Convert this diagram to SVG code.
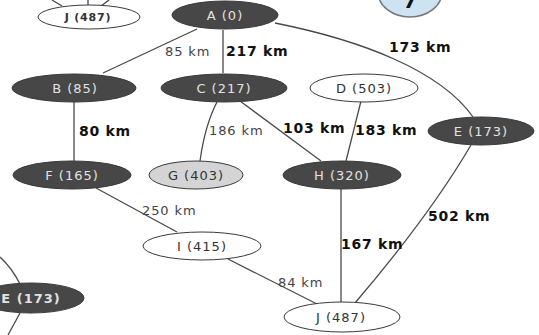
<svg xmlns="http://www.w3.org/2000/svg" width="539" height="335" viewBox="0 0 539 335">
  <style>
    .edge { fill: none; stroke: #4a4a4a; stroke-width: 1.3; }
    .node { stroke: #3a3a3a; stroke-width: 1; }
    .dark { fill: #474747; }
    .light { fill: #ffffff; }
    .grey { fill: #d4d4d4; }
    .blue { fill: #cde3f2; stroke: #777; stroke-width: 1.5; }
    .ntxt { font-family: "DejaVu Sans", sans-serif; font-size: 13px; letter-spacing: 1px; text-anchor: middle; }
    .ondark { fill: #e2e2e2; }
    .onlight { fill: #333333; }
    .lbl { font-family: "DejaVu Sans", sans-serif; font-size: 13px; letter-spacing: 0.9px; fill: #444444; }
    .lblb { font-family: "DejaVu Sans", sans-serif; font-size: 14px; font-weight: bold; letter-spacing: 0.7px; fill: #111111; }
  </style>

  <g id="connectors">
    <!-- stubs from off-frame neighbours -->
    <line class="edge" x1="62" y1="6" x2="52" y2="0"/>
    <line class="edge" x1="88" y1="5" x2="88" y2="0"/>
    <line class="edge" x1="101" y1="6" x2="109" y2="0"/>
    <path class="edge" d="M0,257 Q12,268 20,284"/>
    <line class="edge" x1="20" y1="313" x2="8" y2="335"/>

    <line class="edge" x1="103" y1="73" x2="197" y2="29"/>
    <line class="edge" x1="223" y1="30" x2="223" y2="73"/>
    <path class="edge" d="M275,23 C360,40 440,70 473,117"/>
    <line class="edge" x1="74" y1="102" x2="74" y2="161"/>
    <path class="edge" d="M217,102 Q205,125 200,161"/>
    <line class="edge" x1="240" y1="101" x2="321" y2="161"/>
    <line class="edge" x1="361" y1="101" x2="346" y2="161"/>
    <path class="edge" d="M471,145 Q430,215 355,303"/>
    <line class="edge" x1="96" y1="188" x2="177" y2="232"/>
    <line class="edge" x1="228" y1="259" x2="317" y2="304"/>
    <line class="edge" x1="341" y1="189" x2="341" y2="303"/>

    <text class="lbl" x="165" y="56">85 km</text>
    <text class="lblb" x="226" y="56">217 km</text>
    <text class="lblb" x="389" y="52">173 km</text>
    <text class="lblb" x="79" y="136">80 km</text>
    <text class="lbl" x="209" y="135">186 km</text>
    <text class="lblb" x="283" y="133">103 km</text>
    <text class="lblb" x="355" y="135">183 km</text>
    <text class="lbl" x="142" y="215">250 km</text>
    <text class="lblb" x="428" y="221">502 km</text>
    <text class="lblb" x="341" y="249">167 km</text>
    <text class="lbl" x="278" y="287">84 km</text>
  </g>

  <g id="node-7">
    <ellipse class="blue" cx="410" cy="-8" rx="32" ry="25"/>
    <text x="410" y="8" font-family="DejaVu Sans, sans-serif" font-size="20" font-weight="bold" fill="#111" text-anchor="middle">7</text>
  </g>

  <g id="node-J-top">
    <ellipse class="node light" cx="89" cy="17" rx="51" ry="12"/>
    <text class="ntxt onlight" x="88" y="21" font-size="11" font-weight="bold" style="font-size:11px;letter-spacing:0.8px">J (487)</text>
  </g>

  <g id="node-A">
    <ellipse class="node dark" cx="225" cy="15" rx="53" ry="14"/>
    <text class="ntxt ondark" x="225" y="20">A (0)</text>
  </g>

  <g id="node-B">
    <ellipse class="node dark" cx="74" cy="88" rx="62" ry="14"/>
    <text class="ntxt ondark" x="75" y="93">B (85)</text>
  </g>

  <g id="node-C">
    <ellipse class="node dark" cx="224" cy="88" rx="63" ry="14"/>
    <text class="ntxt ondark" x="224" y="93">C (217)</text>
  </g>

  <g id="node-D">
    <ellipse class="node light" cx="364" cy="88" rx="54" ry="14"/>
    <text class="ntxt onlight" x="364" y="93">D (503)</text>
  </g>

  <g id="node-E">
    <ellipse class="node dark" cx="481" cy="131" rx="53" ry="14"/>
    <text class="ntxt ondark" x="481" y="136">E (173)</text>
  </g>

  <g id="node-F">
    <ellipse class="node dark" cx="72" cy="175" rx="59" ry="14"/>
    <text class="ntxt ondark" x="72" y="180">F (165)</text>
  </g>

  <g id="node-G">
    <ellipse class="node grey" cx="196" cy="175" rx="47" ry="14"/>
    <text class="ntxt onlight" x="196" y="180">G (403)</text>
  </g>

  <g id="node-H">
    <ellipse class="node dark" cx="342" cy="175" rx="59" ry="14"/>
    <text class="ntxt ondark" x="342" y="180">H (320)</text>
  </g>

  <g id="node-I">
    <ellipse class="node light" cx="202" cy="246" rx="59" ry="14"/>
    <text class="ntxt onlight" x="202" y="251">I (415)</text>
  </g>

  <g id="node-E-left">
    <ellipse class="node dark" cx="31" cy="298" rx="53" ry="15"/>
    <text class="ntxt ondark" x="31" y="303" font-weight="bold">E (173)</text>
  </g>

  <g id="node-J">
    <ellipse class="node light" cx="342" cy="317" rx="58" ry="15"/>
    <text class="ntxt onlight" x="341" y="322">J (487)</text>
  </g>
</svg>
